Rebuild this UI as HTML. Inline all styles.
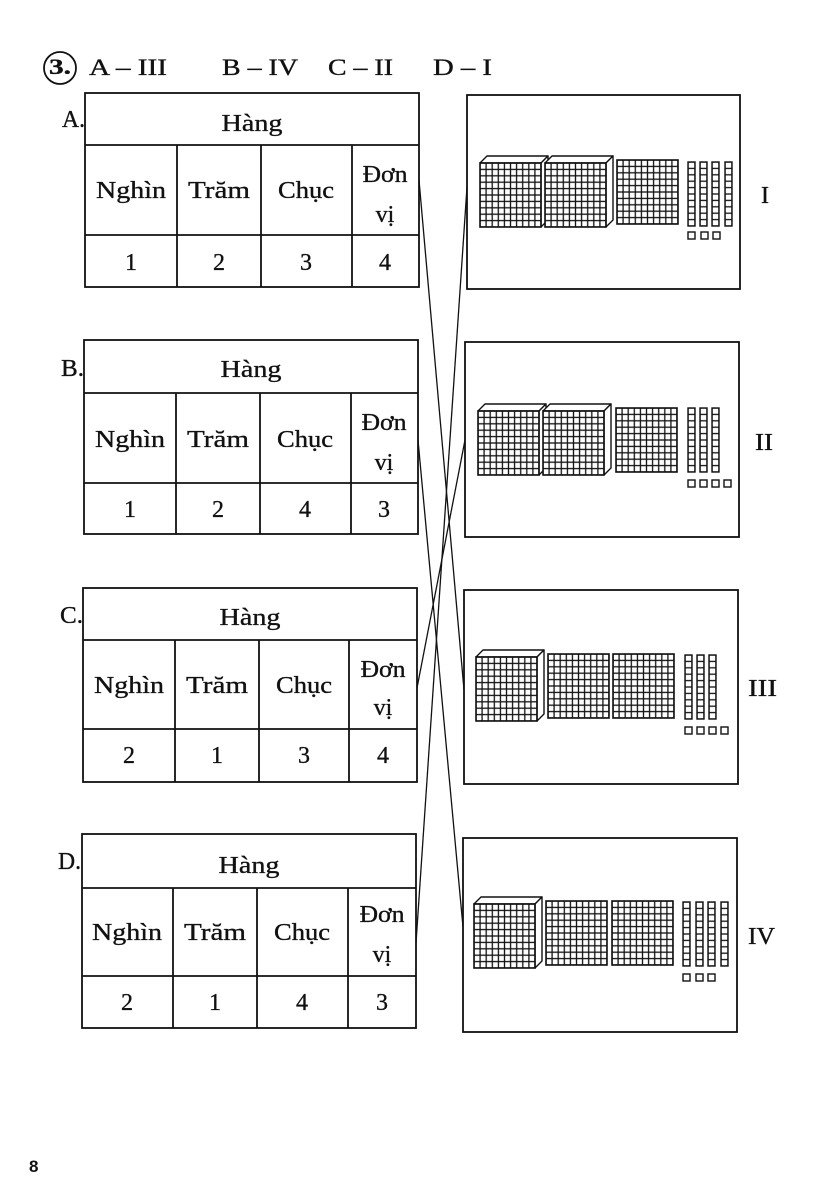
<!DOCTYPE html>
<html><head><meta charset="utf-8"><style>
html,body{margin:0;padding:0;background:#fff;}
svg{display:block;}
text{font-family:"Liberation Serif",serif;fill:#111;stroke:#111;stroke-width:0.35;}
</style></head><body>
<svg width="827" height="1200" viewBox="0 0 827 1200" xmlns="http://www.w3.org/2000/svg">
<defs>
<pattern id="gp" width="6.1" height="6.4" patternUnits="userSpaceOnUse"><rect width="6.1" height="6.4" fill="#fff" stroke="#111" stroke-width="1.3"/></pattern>
<pattern id="rp" width="7" height="6.4" patternUnits="userSpaceOnUse"><rect width="7" height="6.4" fill="#fff" stroke="#111" stroke-width="1.3"/></pattern>
<g id="flat"><rect width="61" height="64" fill="url(#gp)" stroke="#111" stroke-width="1.6"/></g>
<g id="cube"><polygon points="0,0 7,-7 68,-7 61,0" fill="#fff" stroke="#111" stroke-width="1.4" stroke-linejoin="round"/><polygon points="61,0 68,-7 68,57 61,64" fill="#fff" stroke="#111" stroke-width="1.4" stroke-linejoin="round"/><rect width="61" height="64" fill="url(#gp)" stroke="#111" stroke-width="1.6"/></g>
<g id="rod"><rect width="7" height="64" fill="url(#rp)" stroke="#111" stroke-width="1.4"/></g>
<g id="unit"><rect width="7" height="7" fill="#fff" stroke="#111" stroke-width="1.4"/></g>
</defs>

<!-- header -->
<circle cx="60" cy="68" r="16" fill="none" stroke="#111" stroke-width="1.8"/>
<text x="49" y="74" font-size="22" font-weight="bold" textLength="22" lengthAdjust="spacingAndGlyphs">3.</text>
<text x="89" y="75" font-size="23" textLength="78" lengthAdjust="spacingAndGlyphs">A – III</text>
<text x="222" y="75" font-size="23" textLength="76" lengthAdjust="spacingAndGlyphs">B – IV</text>
<text x="328" y="75" font-size="23" textLength="65" lengthAdjust="spacingAndGlyphs">C – II</text>
<text x="433" y="75" font-size="23" textLength="59" lengthAdjust="spacingAndGlyphs">D – I</text>

<!-- Table A -->
<g fill="none" stroke="#111" stroke-width="1.8">
<rect x="85" y="93" width="334" height="194"/>
<line x1="85" y1="145" x2="419" y2="145"/><line x1="85" y1="235" x2="419" y2="235"/>
<line x1="177" y1="145" x2="177" y2="287"/><line x1="261" y1="145" x2="261" y2="287"/><line x1="352" y1="145" x2="352" y2="287"/>
</g>
<g font-size="24">
<text x="62" y="127" textLength="23" lengthAdjust="spacingAndGlyphs">A.</text>
<text x="252" y="131" text-anchor="middle" textLength="61" lengthAdjust="spacingAndGlyphs">Hàng</text>
<text x="131" y="198" text-anchor="middle" textLength="70" lengthAdjust="spacingAndGlyphs">Nghìn</text>
<text x="219" y="198" text-anchor="middle" textLength="62" lengthAdjust="spacingAndGlyphs">Trăm</text>
<text x="306" y="198" text-anchor="middle" textLength="56" lengthAdjust="spacingAndGlyphs">Chục</text>
<text x="385" y="182" text-anchor="middle" textLength="45" lengthAdjust="spacingAndGlyphs">Đơn</text>
<text x="385" y="222" text-anchor="middle">vị</text>
<text x="131" y="270" text-anchor="middle">1</text><text x="219" y="270" text-anchor="middle">2</text><text x="306" y="270" text-anchor="middle">3</text><text x="385" y="270" text-anchor="middle">4</text>
</g>

<!-- Table B -->
<g fill="none" stroke="#111" stroke-width="1.8">
<rect x="84" y="340" width="334" height="194"/>
<line x1="84" y1="393" x2="418" y2="393"/><line x1="84" y1="483" x2="418" y2="483"/>
<line x1="176" y1="393" x2="176" y2="534"/><line x1="260" y1="393" x2="260" y2="534"/><line x1="351" y1="393" x2="351" y2="534"/>
</g>
<g font-size="24">
<text x="61" y="376" textLength="23" lengthAdjust="spacingAndGlyphs">B.</text>
<text x="251" y="377" text-anchor="middle" textLength="61" lengthAdjust="spacingAndGlyphs">Hàng</text>
<text x="130" y="447" text-anchor="middle" textLength="70" lengthAdjust="spacingAndGlyphs">Nghìn</text>
<text x="218" y="447" text-anchor="middle" textLength="62" lengthAdjust="spacingAndGlyphs">Trăm</text>
<text x="305" y="447" text-anchor="middle" textLength="56" lengthAdjust="spacingAndGlyphs">Chục</text>
<text x="384" y="430" text-anchor="middle" textLength="45" lengthAdjust="spacingAndGlyphs">Đơn</text>
<text x="384" y="470" text-anchor="middle">vị</text>
<text x="130" y="517" text-anchor="middle">1</text><text x="218" y="517" text-anchor="middle">2</text><text x="305" y="517" text-anchor="middle">4</text><text x="384" y="517" text-anchor="middle">3</text>
</g>

<!-- Table C -->
<g fill="none" stroke="#111" stroke-width="1.8">
<rect x="83" y="588" width="334" height="194"/>
<line x1="83" y1="640" x2="417" y2="640"/><line x1="83" y1="729" x2="417" y2="729"/>
<line x1="175" y1="640" x2="175" y2="782"/><line x1="259" y1="640" x2="259" y2="782"/><line x1="349" y1="640" x2="349" y2="782"/>
</g>
<g font-size="24">
<text x="60" y="623" textLength="23" lengthAdjust="spacingAndGlyphs">C.</text>
<text x="250" y="625" text-anchor="middle" textLength="61" lengthAdjust="spacingAndGlyphs">Hàng</text>
<text x="129" y="693" text-anchor="middle" textLength="70" lengthAdjust="spacingAndGlyphs">Nghìn</text>
<text x="217" y="693" text-anchor="middle" textLength="62" lengthAdjust="spacingAndGlyphs">Trăm</text>
<text x="304" y="693" text-anchor="middle" textLength="56" lengthAdjust="spacingAndGlyphs">Chục</text>
<text x="383" y="677" text-anchor="middle" textLength="45" lengthAdjust="spacingAndGlyphs">Đơn</text>
<text x="383" y="715" text-anchor="middle">vị</text>
<text x="129" y="763" text-anchor="middle">2</text><text x="217" y="763" text-anchor="middle">1</text><text x="304" y="763" text-anchor="middle">3</text><text x="383" y="763" text-anchor="middle">4</text>
</g>

<!-- Table D -->
<g fill="none" stroke="#111" stroke-width="1.8">
<rect x="82" y="834" width="334" height="194"/>
<line x1="82" y1="888" x2="416" y2="888"/><line x1="82" y1="976" x2="416" y2="976"/>
<line x1="173" y1="888" x2="173" y2="1028"/><line x1="257" y1="888" x2="257" y2="1028"/><line x1="348" y1="888" x2="348" y2="1028"/>
</g>
<g font-size="24">
<text x="58" y="869" textLength="23" lengthAdjust="spacingAndGlyphs">D.</text>
<text x="249" y="873" text-anchor="middle" textLength="61" lengthAdjust="spacingAndGlyphs">Hàng</text>
<text x="127" y="940" text-anchor="middle" textLength="70" lengthAdjust="spacingAndGlyphs">Nghìn</text>
<text x="215" y="940" text-anchor="middle" textLength="62" lengthAdjust="spacingAndGlyphs">Trăm</text>
<text x="302" y="940" text-anchor="middle" textLength="56" lengthAdjust="spacingAndGlyphs">Chục</text>
<text x="382" y="922" text-anchor="middle" textLength="45" lengthAdjust="spacingAndGlyphs">Đơn</text>
<text x="382" y="962" text-anchor="middle">vị</text>
<text x="127" y="1010" text-anchor="middle">2</text><text x="215" y="1010" text-anchor="middle">1</text><text x="302" y="1010" text-anchor="middle">4</text><text x="382" y="1010" text-anchor="middle">3</text>
</g>

<!-- Right panels -->
<g fill="none" stroke="#111" stroke-width="1.8">
<rect x="467" y="95" width="273" height="194"/>
<rect x="465" y="342" width="274" height="195"/>
<rect x="464" y="590" width="274" height="194"/>
<rect x="463" y="838" width="274" height="194"/>
</g>

<!-- Panel I -->
<use href="#cube" x="480" y="163"/>
<use href="#cube" x="545" y="163"/>
<use href="#flat" x="617" y="160"/>
<use href="#rod" x="688" y="162"/><use href="#rod" x="700" y="162"/><use href="#rod" x="712" y="162"/><use href="#rod" x="725" y="162"/>
<use href="#unit" x="688" y="232"/><use href="#unit" x="701" y="232"/><use href="#unit" x="713" y="232"/>

<!-- Panel II -->
<use href="#cube" x="478" y="411"/>
<use href="#cube" x="543" y="411"/>
<use href="#flat" x="616" y="408"/>
<use href="#rod" x="688" y="408"/><use href="#rod" x="700" y="408"/><use href="#rod" x="712" y="408"/>
<use href="#unit" x="688" y="480"/><use href="#unit" x="700" y="480"/><use href="#unit" x="712" y="480"/><use href="#unit" x="724" y="480"/>

<!-- Panel III -->
<use href="#cube" x="476" y="657"/>
<use href="#flat" x="548" y="654"/>
<use href="#flat" x="613" y="654"/>
<use href="#rod" x="685" y="655"/><use href="#rod" x="697" y="655"/><use href="#rod" x="709" y="655"/>
<use href="#unit" x="685" y="727"/><use href="#unit" x="697" y="727"/><use href="#unit" x="709" y="727"/><use href="#unit" x="721" y="727"/>

<!-- Panel IV -->
<use href="#cube" x="474" y="904"/>
<use href="#flat" x="546" y="901"/>
<use href="#flat" x="612" y="901"/>
<use href="#rod" x="683" y="902"/><use href="#rod" x="696" y="902"/><use href="#rod" x="708" y="902"/><use href="#rod" x="721" y="902"/>
<use href="#unit" x="683" y="974"/><use href="#unit" x="696" y="974"/><use href="#unit" x="708" y="974"/>

<!-- panel labels -->
<g font-size="24">
<text x="765" y="203" text-anchor="middle">I</text>
<text x="764" y="450" text-anchor="middle" textLength="18" lengthAdjust="spacingAndGlyphs">II</text>
<text x="762.5" y="696" text-anchor="middle" textLength="29" lengthAdjust="spacingAndGlyphs">III</text>
<text x="761.5" y="944" text-anchor="middle" textLength="27" lengthAdjust="spacingAndGlyphs">IV</text>
</g>

<!-- connectors -->
<g stroke="#111" stroke-width="1.3" fill="none">
<line x1="419" y1="180" x2="464" y2="690"/>
<line x1="418" y1="440" x2="463" y2="927"/>
<line x1="417" y1="688" x2="465" y2="440"/>
<line x1="416" y1="943" x2="467" y2="187"/>
</g>

<!-- page number -->
<text x="29" y="1172" font-size="17" font-weight="bold" style="font-family:'Liberation Sans',sans-serif;stroke-width:0">8</text>
</svg>
</body></html>
